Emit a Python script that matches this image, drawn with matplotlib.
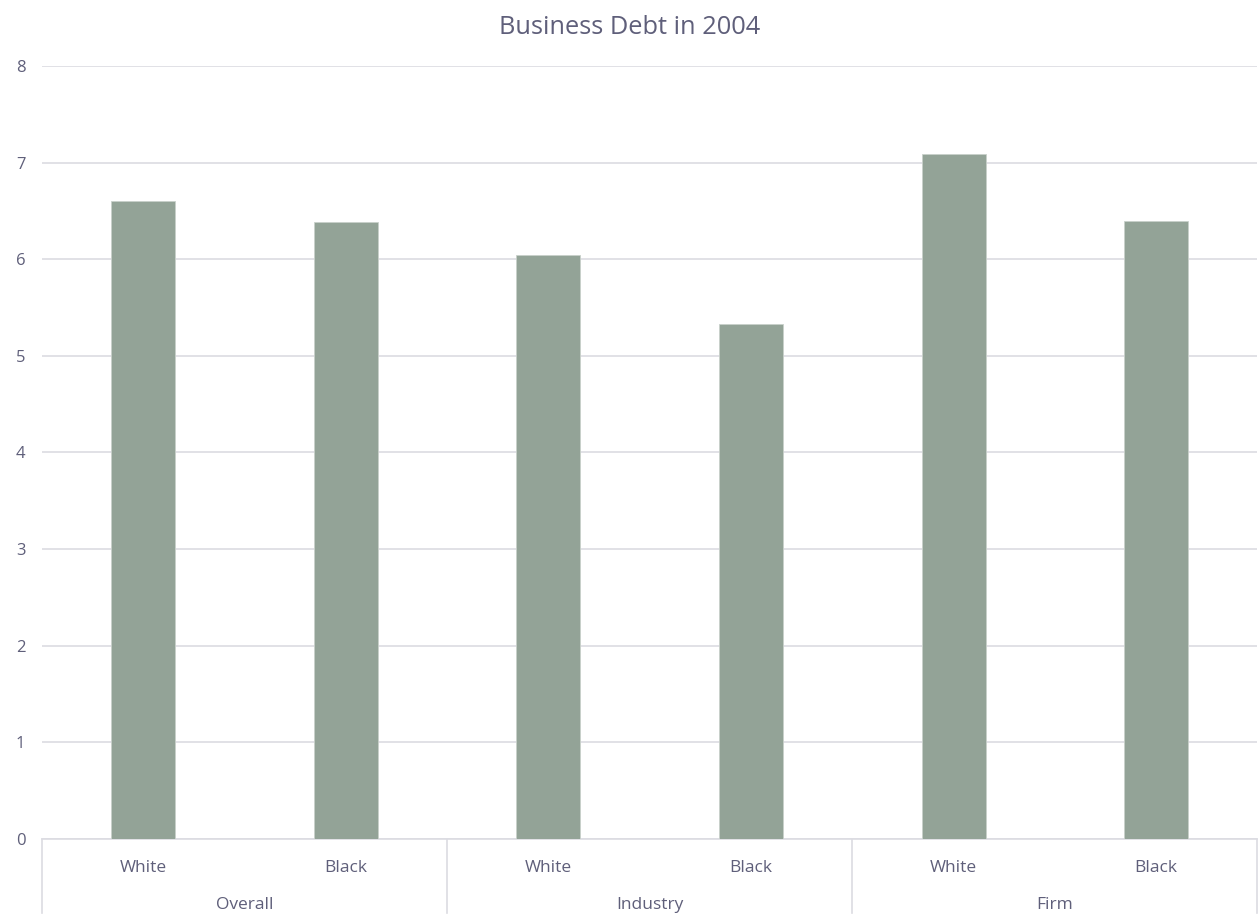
import matplotlib.pyplot as plt
import matplotlib.transforms as mtransforms

groups = ["Overall", "Industry", "Firm"]
subcats = ["White", "Black", "White", "Black", "White", "Black"]
values = [6.60, 6.38, 6.04, 5.33, 7.09, 6.40]

txt = "#5f5f7a"
grid = "#dcdce2"
plt.rcParams['font.family'] = ['Open Sans', 'DejaVu Sans']

fig = plt.figure(figsize=(12.6, 9.15), dpi=100)
ax = fig.add_axes([0.0333, 0.083, 0.9647, 0.845])

x = list(range(len(values)))
ax.bar(x, values, width=0.316, color="#93a397", edgecolor="#c9d1cb", linewidth=0.6, zorder=3)

ax.set_xlim(-0.5, len(values) - 0.5)
ax.set_ylim(0, 8)
ax.set_yticks(range(0, 9))
ax.tick_params(axis='y', length=0, labelsize=12, labelcolor=txt, pad=12)
ax.yaxis.grid(True, color=grid, linewidth=1.2, zorder=0)
ax.set_xticks([])
for s in ["top", "right", "left"]:
    ax.spines[s].set_visible(False)
ax.spines["bottom"].set_color(grid)
ax.spines["bottom"].set_linewidth(1.2)

trans = mtransforms.blended_transform_factory(ax.transData, ax.transAxes)
depth = 74 / 773
for i, lab in enumerate(subcats):
    ax.text(i, -29 / 773, lab, transform=trans, ha="center", va="center", fontsize=12.5, color=txt)
for g, name in enumerate(groups):
    ax.text(2 * g + 0.5, -66 / 773, name, transform=trans, ha="center", va="center", fontsize=12.5, color=txt)
for xs in [-0.5, 1.5, 3.5, 5.5]:
    ax.plot([xs, xs], [0, -depth], transform=trans, color=grid, linewidth=1.2, clip_on=False)

fig.text(0.5, 1 - 27 / 915, "Business Debt in 2004", ha="center", va="center", fontsize=18.3, color=txt)

fig.savefig("out.png", dpi=100)
